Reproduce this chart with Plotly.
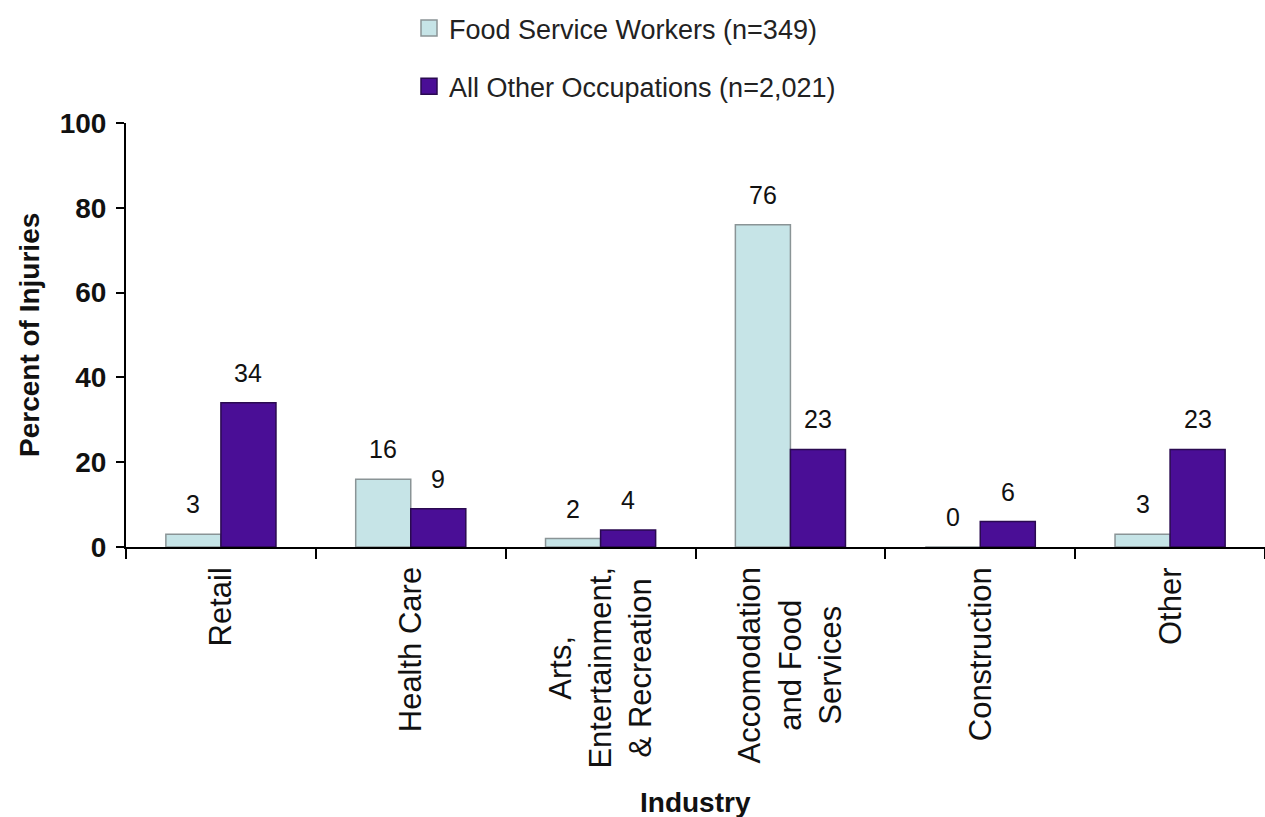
import plotly.graph_objects as go

# Industry categories and the percentage of injuries in each
categories = ["Retail", "Health Care", "Arts,<br>Entertainment,<br>& Recreation",
              "Accomodation<br>and Food<br>Services", "Construction", "Other"]
food_service = [3, 16, 2, 76, 0, 3]
all_other = [34, 9, 4, 23, 6, 23]
series_names = ["Food Service Workers (n=349)", "All Other Occupations (n=2,021)"]
y_ticks = [0, 20, 40, 60, 80, 100]

FONT = "Arial, Liberation Sans, sans-serif"
LIGHT = "#C6E4E7"
LIGHT_EDGE = "#8A9496"
DARK = "#4A0E96"
DARK_EDGE = "#2A0A50"

W, H = 1265, 817
M_L, M_R, M_T, M_B = 126, 0, 123, 270
BARGAP = 0.42
cat_px = (W - M_L - M_R) / len(categories)
bar_px = cat_px * (1 - BARGAP) / 2

fig = go.Figure()

series = [(food_service, LIGHT, LIGHT_EDGE), (all_other, DARK, DARK_EDGE)]
for vals, fill, edge in series:
    fig.add_trace(go.Bar(
        x=categories, y=vals, marker=dict(color=fill, line=dict(color=edge, width=1.5)),
        showlegend=False, hoverinfo="x+y",
    ))

# legend entries with larger square swatches
for i, (name, (vals, fill, edge)) in enumerate(zip(series_names, series)):
    fig.add_trace(go.Scatter(
        x=[None], y=[None], mode="markers", name=name, legendgroup=f"g{i}",
        marker=dict(symbol="square", size=16, color=fill, line=dict(color=edge, width=1.5)),
    ))

annotations = []
# value labels above each bar
for s, (vals, _, _) in enumerate(series):
    for cat, v in zip(categories, vals):
        annotations.append(dict(
            x=cat, y=v, xref="x", yref="y", text=str(v), showarrow=False,
            xanchor="center", yanchor="bottom", xshift=(s - 0.5) * bar_px, yshift=14,
            font=dict(family=FONT, size=25, color="#111111"),
        ))

# rotated category labels under the axis
for cat in categories:
    annotations.append(dict(
        x=cat, y=0, xref="x", yref="paper", text=cat, showarrow=False,
        textangle=-90, align="center", xanchor="center", yanchor="top", yshift=-18,
        font=dict(family=FONT, size=31, color="#111111"),
    ))

# axis titles
annotations.append(dict(
    x=0.5, y=0, xref="paper", yref="paper", text="<b>Industry</b>", showarrow=False,
    xanchor="center", yanchor="middle", yshift=-255,
    font=dict(family=FONT, size=28, color="#111111"),
))
annotations.append(dict(
    x=0, y=0.5, xref="paper", yref="paper", text="<b>Percent of Injuries</b>", showarrow=False,
    textangle=-90, xanchor="center", yanchor="middle", xshift=29 - M_L,
    font=dict(family=FONT, size=28, color="#111111"),
))

fig.update_layout(
    width=W, height=H,
    margin=dict(l=M_L, r=M_R, t=M_T, b=M_B, autoexpand=False),
    paper_bgcolor="white", plot_bgcolor="white",
    barmode="group", bargap=BARGAP, bargroupgap=0,
    font=dict(family=FONT, color="#111111"),
    legend=dict(
        xref="container", yref="container", x=409 / W, y=1 - 4 / H,
        xanchor="left", yanchor="top", bgcolor="white",
        font=dict(family=FONT, size=27, color="#222222"),
        tracegroupgap=20, itemclick=False,
    ),
    annotations=annotations,
)
fig.update_xaxes(
    showline=True, linecolor="black", linewidth=2, showgrid=False,
    ticks="outside", tickson="boundaries", ticklen=10, tickwidth=2, tickcolor="black",
    showticklabels=False, fixedrange=True,
)
fig.update_yaxes(
    range=[0, 100], tickvals=y_ticks, showline=True, linecolor="black", linewidth=2,
    showgrid=False, zeroline=False, ticks="outside", ticklen=8, tickwidth=2,
    tickcolor="black", ticklabelstandoff=4,
    tickfont=dict(family=FONT, size=28, color="#111111", weight="bold"), fixedrange=True,
)

fig.write_html("out.html", config={"displayModeBar": False})
